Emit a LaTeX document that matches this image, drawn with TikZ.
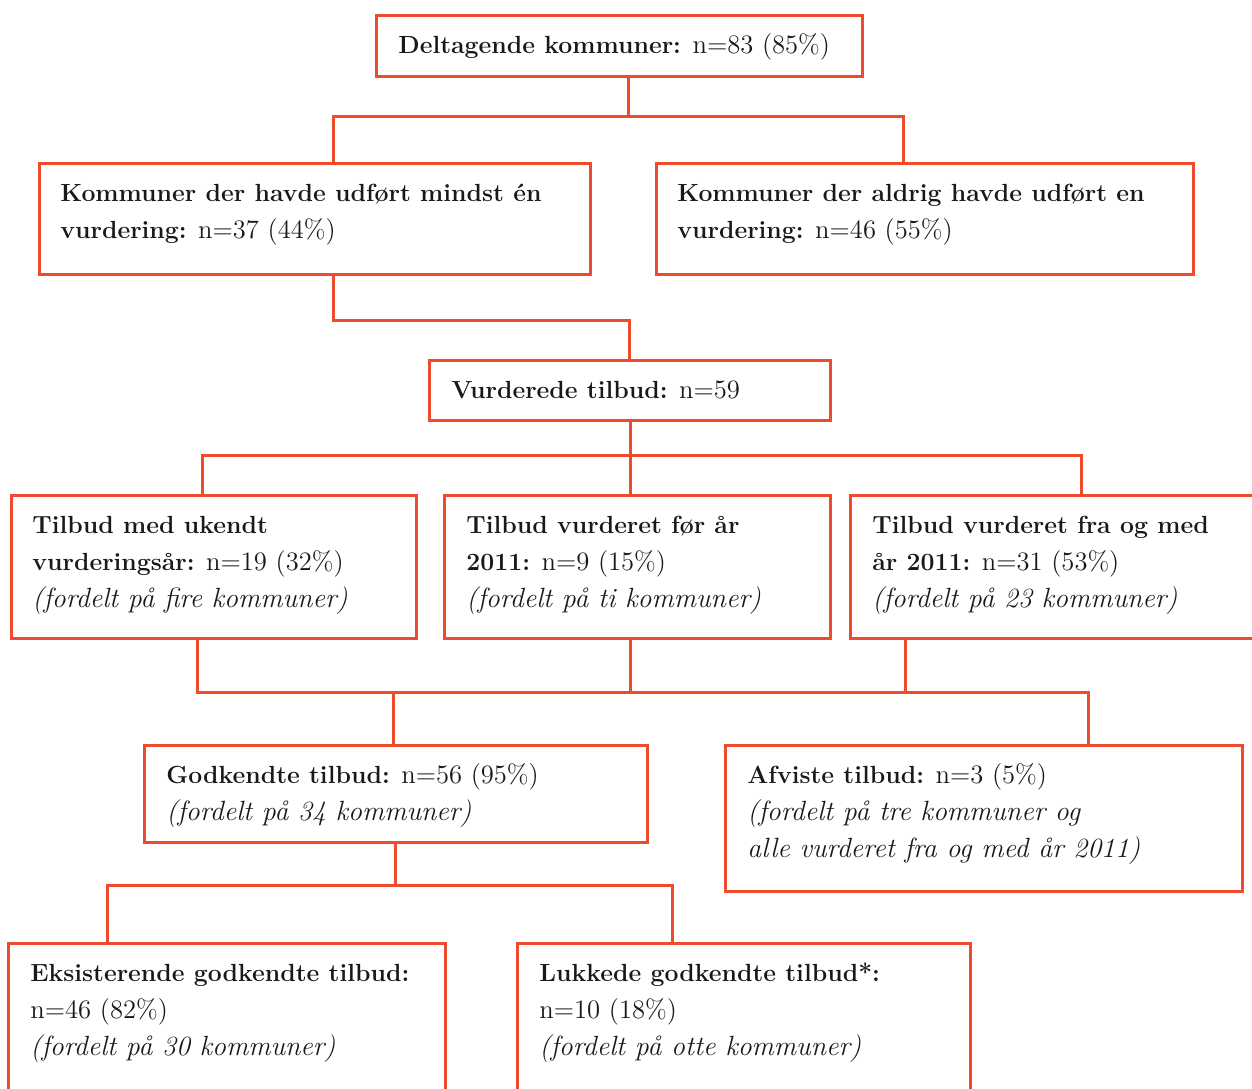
\documentclass[tikz,border=0pt]{standalone}
\usepackage{fontspec}
\usetikzlibrary{calc}
\definecolor{framered}{RGB}{238,76,44}
\tikzset{
  tbox/.style 2 args={draw=framered, line width=1.5pt, inner sep=0pt, outer sep=0pt,
    anchor=north west, minimum width=#1*0.5pt, minimum height=#2*0.5pt},
  boxtext/.style={anchor=north west, inner sep=0pt, align=left, text=black!90,
    font=\fontsize{13.3}{18.5}\selectfont},
  link/.style={draw=framered, line width=1.5pt}
}
\newcommand{\hd}[1]{{\fontsize{12.4}{18.5}\selectfont\bfseries #1}}
\newcommand{\note}[1]{{\fontsize{13.9}{18.5}\selectfont\itshape #1}}
\begin{document}
\begin{tikzpicture}[x=0.5pt, y=-0.5pt]
    \useasboundingbox (0,0) rectangle (1252,1088);

    % Boxes
    \node[tbox={486}{61}]  (top)    at (376,15)  {};
    \node[tbox={551}{111}] (kdone)  at (39,163)  {};
    \node[tbox={537}{111}] (knot)   at (656,163) {};
    \node[tbox={401}{60}]  (vurd)   at (429,360) {};
    \node[tbox={405}{143}] (ukendt) at (11,495)  {};
    \node[tbox={386}{143}] (foer)   at (444,495) {};
    \node[tbox={430}{143}] (efter)  at (850,495) {};
    \node[tbox={503}{97}]  (godk)   at (144,745) {};
    \node[tbox={517}{146}] (afvist) at (725,745) {};
    \node[tbox={437}{160}] (eksist) at (8,943)   {};
    \node[tbox={453}{160}] (lukket) at (517,943) {};

    % Texts
    \node[boxtext] (top-t) at ($(top.north west)+(22,12)$)
        {\strut\hd{Deltagende kommuner:} n=83 (85\%)};
    \node[boxtext] (kdone-t) at ($(kdone.north west)+(21,12)$)
        {\strut\hd{Kommuner der havde udført mindst én}\\ \hd{vurdering:} n=37 (44\%)};
    \node[boxtext] (knot-t) at ($(knot.north west)+(21,12)$)
        {\strut\hd{Kommuner der aldrig havde udført en}\\ \hd{vurdering:} n=46 (55\%)};
    \node[boxtext] (vurd-t) at ($(vurd.north west)+(22,12)$)
        {\strut\hd{Vurderede tilbud:} n=59};
    \node[boxtext] (ukendt-t) at ($(ukendt.north west)+(21,12)$)
        {\strut\hd{Tilbud med ukendt}\\ \hd{vurderingsår:} n=19 (32\%)\\ \note{(fordelt på fire kommuner)}};
    \node[boxtext] (foer-t) at ($(foer.north west)+(22,12)$)
        {\strut\hd{Tilbud vurderet før år}\\ \hd{2011:} n=9 (15\%)\\ \note{(fordelt på ti kommuner)}};
    \node[boxtext] (efter-t) at ($(efter.north west)+(22,12)$)
        {\strut\hd{Tilbud vurderet fra og med}\\ \hd{år 2011:} n=31 (53\%)\\ \note{(fordelt på 23 kommuner)}};
    \node[boxtext] (godk-t) at ($(godk.north west)+(22,12)$)
        {\strut\hd{Godkendte tilbud:} n=56 (95\%)\\ \note{(fordelt på 34 kommuner)}};
    \node[boxtext] (afvist-t) at ($(afvist.north west)+(22,12)$)
        {\strut\hd{Afviste tilbud:} n=3 (5\%)\\ \note{(fordelt på tre kommuner og}\\ \note{alle vurderet fra og med år 2011)}};
    \node[boxtext] (eksist-t) at ($(eksist.north west)+(22,12)$)
        {\strut\hd{Eksisterende godkendte tilbud:}\\ n=46 (82\%)\\ \note{(fordelt på 30 kommuner)}};
    \node[boxtext] (lukket-t) at ($(lukket.north west)+(22,12)$)
        {\strut\hd{Lukkede godkendte tilbud*:}\\ n=10 (18\%)\\ \note{(fordelt på otte kommuner)}};

    % Junctions
    \coordinate (j1)  at (628,116);
    \coordinate (b1l) at (333,116);
    \coordinate (b1r) at (903,116);
    \coordinate (b2l) at (333,320);
    \coordinate (b2r) at (629,320);
    \coordinate (j3)  at (630,455);
    \coordinate (b3l) at (202,455);
    \coordinate (b3r) at (1081,455);
    \coordinate (b4l) at (197,692);
    \coordinate (b4r) at (1088,692);
    \coordinate (j4a) at (630,692);
    \coordinate (j4b) at (905,692);
    \coordinate (j4c) at (393,692);
    \coordinate (j5)  at (395,885);
    \coordinate (b5l) at (107,885);
    \coordinate (b5r) at (672,885);

    % Connectors
    \draw[link] (top.south -| j1) -- (j1);
    \draw[link] (kdone.north -| b1l) -- (b1l) -- (b1r) -- (knot.north -| b1r);
    \draw[link] (kdone.south -| b2l) -- (b2l) -- (b2r) -- (vurd.north -| b2r);
    \draw[link] (vurd.south -| j3) -- (foer.north -| j3);
    \draw[link] (ukendt.north -| b3l) -- (b3l) -- (b3r) -- (efter.north -| b3r);
    \draw[link] (ukendt.south -| b4l) -- (b4l) -- (b4r) -- (afvist.north -| b4r);
    \draw[link] (foer.south -| j4a) -- (j4a);
    \draw[link] (efter.south -| j4b) -- (j4b);
    \draw[link] (j4c) -- (godk.north -| j4c);
    \draw[link] (godk.south -| j5) -- (j5);
    \draw[link] (eksist.north -| b5l) -- (b5l) -- (b5r) -- (lukket.north -| b5r);
\end{tikzpicture}
\end{document}
